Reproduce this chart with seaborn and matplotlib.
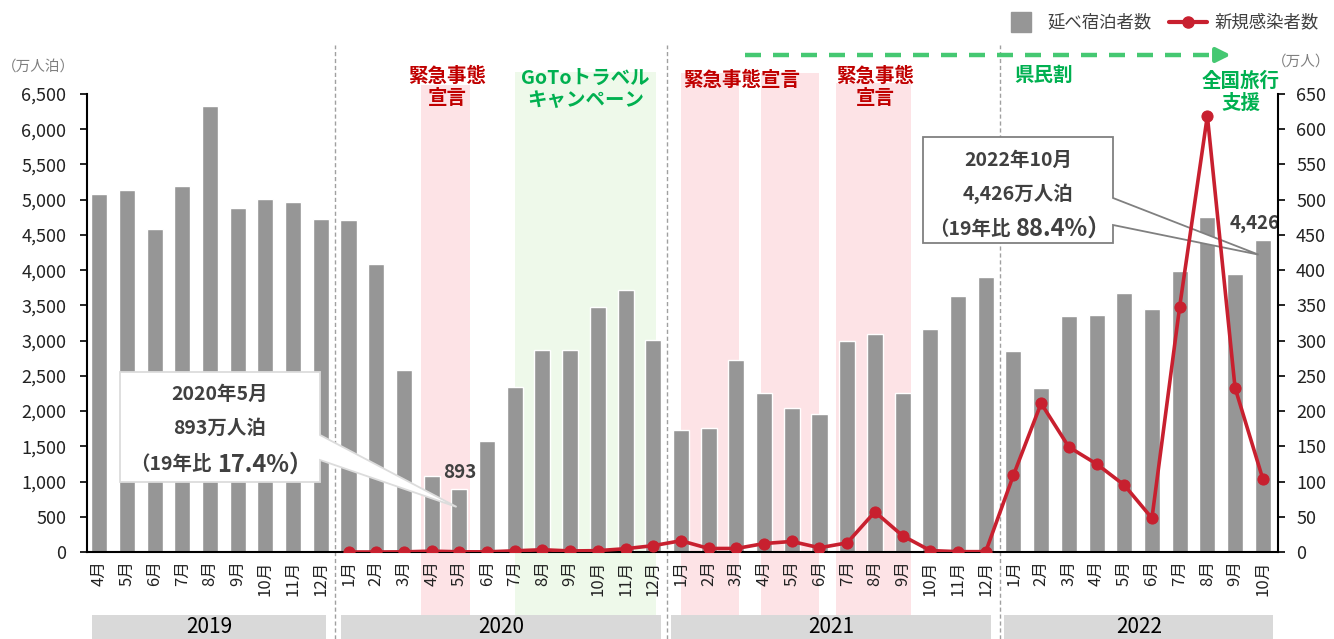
import numpy as np
import pandas as pd
import seaborn as sns
import matplotlib.pyplot as plt
from matplotlib.lines import Line2D
from matplotlib.patches import Polygon, Rectangle
from matplotlib import transforms

# data (万人泊 / 万人)
years = ["2019", "2020", "2021", "2022"]
year_months = [list(range(4, 13)), list(range(1, 13)), list(range(1, 13)), list(range(1, 11))]
stays = [5080, 5140, 4580, 5190, 6330, 4880, 5010, 4970, 4720,
         4710, 4090, 2590, 1080, 893, 1580, 2340, 2860, 2860, 3480, 3720, 3010,
         1730, 1760, 2730, 2250, 2050, 1960, 3000, 3100, 2250, 3160, 3640, 3900,
         2850, 2330, 3350, 3370, 3680, 3450, 3990, 4750, 3950, 4426]
cases = [np.nan] * 9 + \
        [0.0, 0.0, 0.2, 1.2, 0.3, 0.2, 1.7, 3.2, 1.5, 1.9, 4.7, 9.0] + \
        [16, 5, 5, 12, 15, 6, 13, 57, 23, 2, 0.5, 0.5] + \
        [109, 211, 149, 125, 95, 48, 348, 619, 233, 104]

month_labels = [f"{m}月" for ms in year_months for m in ms]
df = pd.DataFrame({"idx": range(len(stays)), "stays": stays, "cases": cases})

sns.set_theme(style="white")
plt.rcParams["font.family"] = ["Noto Sans CJK JP", "DejaVu Sans"]

W, H = 1334, 639
fig = plt.figure(figsize=(W / 100, H / 100), dpi=100)
ax = fig.add_axes([87 / W, 1 - 552 / H, (1278 - 87) / W, (552 - 94) / H])
ax2 = ax.twinx()

def fx(px):
    return px / W

def fy(py):
    return 1 - py / H

GREY = "#969696"
RED = "#c8202f"
DRED = "#c00000"
GREEN = "#00b050"
TXT = "#404040"

sns.barplot(data=df, x="idx", y="stays", color=GREY, saturation=1, width=0.58, ax=ax, zorder=2)
sns.lineplot(data=df, x="idx", y="cases", ax=ax2, color=RED, linewidth=2.6, marker="o",
             markersize=8, markeredgecolor=RED, legend=False)

ax.set_xlim(-0.44, 42.55)
ax.set_ylim(0, 6500)
ax2.set_ylim(0, 650)
ax.set_yticks(range(0, 6501, 500))
ax.set_yticklabels([f"{v:,}" for v in range(0, 6501, 500)])
ax2.set_yticks(range(0, 651, 50))
ax.set_xticks(range(len(month_labels)))
ax.set_xticklabels(month_labels, rotation=90)
ax.set_xlabel("")
ax.set_ylabel("")
ax2.set_ylabel("")
ax2.set_xlabel("")

for a in (ax, ax2):
    for s in a.spines.values():
        s.set_visible(False)
ax.spines["left"].set_visible(True)
ax.spines["bottom"].set_visible(True)
ax2.spines["right"].set_visible(True)
for s in (ax.spines["left"], ax.spines["bottom"], ax2.spines["right"]):
    s.set_color("black")
    s.set_linewidth(1.5)
ax.tick_params(axis="y", left=True, length=5, width=1.2, color="black", labelsize=13,
               labelcolor="#222222", pad=10)
ax2.tick_params(axis="y", right=True, length=5, width=1.2, color="black", labelsize=13,
                labelcolor="#222222", pad=8)
ax.tick_params(axis="x", length=0, labelsize=12, labelcolor="#222222", pad=6)

# shaded periods
pink_spans = [(11.6, 13.4, 85), (21.0, 23.1, 73), (23.9, 26.0, 73), (26.6, 29.3, 83)]
green_spans = [(15.0, 20.1, 72)]
def ax_frac(py):
    return (552 - py) / (552 - 94)
for x0, x1, top in pink_spans:
    ax.axvspan(x0, x1, ymin=ax_frac(615), ymax=ax_frac(top), color="#fde3e6",
               zorder=0, clip_on=False, lw=0)
for x0, x1, top in green_spans:
    ax.axvspan(x0, x1, ymin=ax_frac(615), ymax=ax_frac(top), color="#eef9ea",
               zorder=0, clip_on=False, lw=0)

# year dividers and bands
for xd in (8.5, 20.5, 32.5):
    ax.axvline(xd, ymin=ax_frac(639), ymax=ax_frac(45), color="#a0a0a0", lw=1,
               ls=(0, (3, 2)), clip_on=False, zorder=1)
bt = transforms.blended_transform_factory(ax.transData, fig.transFigure)
bands = [(-0.25, 8.2), (8.74, 20.29), (20.65, 32.2), (32.67, 42.38)]
for (b0, b1), yr in zip(bands, years):
    ax.add_patch(Rectangle((b0, fy(639)), b1 - b0, fy(615) - fy(639), transform=bt,
                           color="#d9d9d9", clip_on=False, zorder=1, lw=0))
    ax.text((b0 + b1) / 2, fy(627), yr, transform=bt, ha="center", va="center",
            fontsize=15, color="black")

# period labels
lab = dict(transform=bt, ha="center", va="center", fontsize=14, fontweight="bold",
           linespacing=1.2)
ax.text(12.55, fy(87), "緊急事態\n宣言", color=DRED, **lab)
ax.text(17.55, fy(89), "GoToトラベル\nキャンペーン", color=GREEN, **lab)
ax.text(23.2, fy(80), "緊急事態宣言", color=DRED, **lab)
ax.text(28.0, fy(87), "緊急事態\n宣言", color=DRED, **lab)
ax.text(34.1, fy(75), "県民割", color=GREEN, **lab)
ax.text(41.2, fy(92), "全国旅行\n支援", color=GREEN, **lab)

# green dashed arrow
ax.plot([23.3, 40.3], [fy(55), fy(55)], transform=bt, color="#45c872", lw=3.2,
        ls=(0, (3.6, 2.7)), clip_on=False, solid_capstyle="butt")
ax.annotate("", xy=(40.95, fy(55)), xytext=(40.3, fy(55)), xycoords=bt, textcoords=bt,
            arrowprops=dict(arrowstyle="-|>,head_length=0.7,head_width=0.35", color="#45c872",
                            lw=3.2), annotation_clip=False)

# bar value labels
for i in (13, 42):
    ax.annotate(f"{stays[i]:,}", (i, stays[i]), xytext=(0 if i == 13 else -6, 5),
                textcoords="offset points", ha="center", va="bottom", fontsize=13.5,
                fontweight="bold", color=TXT, zorder=6)

# callouts
def callout(box, ya, yb, tip_data, edge):
    x0, y0, x1, y1 = box
    tip = fig.transFigure.inverted().transform(ax.transData.transform(tip_data))
    pts = [(fx(x0), fy(y0)), (fx(x1), fy(y0)), (fx(x1), fy(ya)), tuple(tip),
           (fx(x1), fy(yb)), (fx(x1), fy(y1)), (fx(x0), fy(y1))]
    ax.add_patch(Polygon(pts, closed=True, transform=fig.transFigure, facecolor="white",
                         edgecolor=edge, lw=1.3, clip_on=False, zorder=5))

callout((120, 372, 320, 482), 435, 460, (12.9, 640), "#dcdcdc")
callout((923, 137, 1113, 243), 198, 225, (41.85, 4220), "#808080")

def callout_text(cx, ys, l1, l2, pre, pct, split):
    kw = dict(transform=fig.transFigure, color=TXT, fontweight="bold", zorder=7)
    ax.text(fx(cx), fy(ys[0]), l1, ha="center", va="center", fontsize=14, **kw)
    ax.text(fx(cx), fy(ys[1]), l2, ha="center", va="center", fontsize=14, **kw)
    ax.text(fx(split), fy(ys[2]), pre, ha="right", va="center", fontsize=14, **kw)
    ax.text(fx(split + 5), fy(ys[2]), pct, ha="left", va="center", fontsize=17, **kw)

callout_text(220, (394, 428, 465), "2020年5月", "893万人泊", "（19年比", "17.4%）", 212)
callout_text(1018, (160, 194, 229), "2022年10月", "4,426万人泊", "（19年比", "88.4%）", 1011)

# axis unit labels
fig.text(fx(2), fy(67), "（万人泊）", ha="left", va="center", fontsize=10.5, color="#7f7f7f")
fig.text(fx(1330), fy(62), "（万人）", ha="right", va="center", fontsize=10.5, color="#7f7f7f")

# legend
handles = [Line2D([], [], marker="s", color=GREY, ls="none", markersize=15),
           Line2D([], [], marker="o", color=RED, lw=3, markersize=8)]
fig.legend(handles, ["延べ宿泊者数", "新規感染者数"], loc="upper right",
           bbox_to_anchor=(fx(1334), fy(-2)), ncol=2, frameon=False, fontsize=12.5,
           handlelength=2.2, columnspacing=1.0, handletextpad=0.4, labelcolor="#404040")

fig.savefig("out.png", dpi=100)
